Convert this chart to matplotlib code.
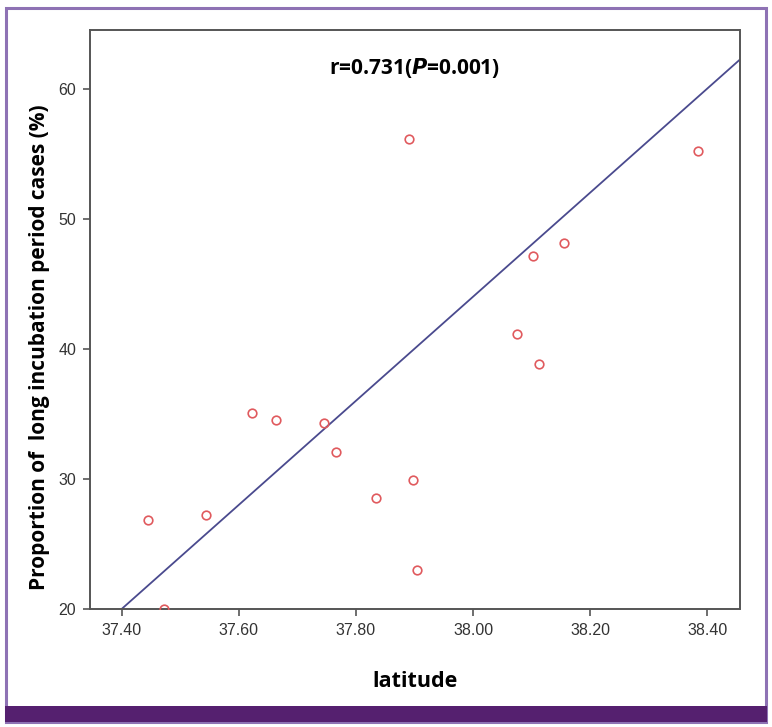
import numpy as np
import matplotlib
matplotlib.use("Agg")
import matplotlib.pyplot as plt
from matplotlib.patches import Rectangle

# points
latitude = [37.445, 37.473, 37.544, 37.622, 37.663, 37.745, 37.766, 37.834,
            37.898, 37.905, 37.890, 38.103, 38.155, 38.075, 38.112, 38.384]
proportion = [26.85, 20.0, 27.2, 35.1, 34.5, 34.3, 32.1, 28.5,
              29.9, 23.0, 56.15, 47.1, 48.1, 41.15, 38.85, 55.2]

# line as drawn in the figure (value at 37.40 and slope per degree)
line_at_start = 20.0
line_start = 37.40
line_slope = 40.0

xticks = [37.40, 37.60, 37.80, 38.00, 38.20, 38.40]
yticks = [20, 30, 40, 50, 60]
annot = "r=0.731($\\mathbfit{P}$=0.001)"

fig = plt.figure(figsize=(7.72, 7.27), dpi=100)
W, H = 772, 727

# outer frame and bottom band
fig.patches.append(Rectangle((6 / W, 1 - 722 / H), 760 / W, 714 / H, transform=fig.transFigure,
                             fill=False, ec="#8e72b4", lw=2.2))
fig.patches.append(Rectangle((5 / W, 1 - 722 / H), 762 / W, 16 / H, transform=fig.transFigure,
                             fc="#55206f", ec="none"))

ax = fig.add_axes([90 / W, 1 - 609 / H, 649.5 / W, 579 / H])
ax.set_xlim(37.346, 38.455)
ax.set_ylim(20, 64.5)

xs = np.array([line_start, 38.455])
ax.plot(xs, line_at_start + line_slope * (xs - line_start), color="#4a4a8e", lw=1.3, zorder=2)
ax.plot(latitude, proportion, "o", mfc="none", mec="#e05a5e", ms=6.2, mew=1.2, zorder=3)

for s in ax.spines.values():
    s.set_color("#555555")
    s.set_linewidth(1.4)

ax.set_xticks(xticks)
ax.set_xticklabels([f"{t:.2f}" for t in xticks])
ax.set_yticks(yticks)
ax.tick_params(direction="out", length=5, width=1.2, color="#555555",
               labelcolor="#333333", labelsize=11.5, pad=5)
for lab in ax.get_xticklabels() + ax.get_yticklabels():
    lab.set_family("Liberation Sans")

ax.text(0.5, 0.935, annot, transform=ax.transAxes, ha="center", va="center",
        fontsize=15, fontweight="bold", family="Open Sans")

ax.set_xlabel("latitude", fontsize=15.5, fontweight="bold", family="Open Sans", labelpad=24)
fig.text(40 / W, 1 - 347 / H, "Proportion of  long incubation period cases (%)", rotation=90,
         ha="center", va="center", fontsize=15, fontweight="bold", family="Open Sans")

fig.savefig("out.png", dpi=100)
